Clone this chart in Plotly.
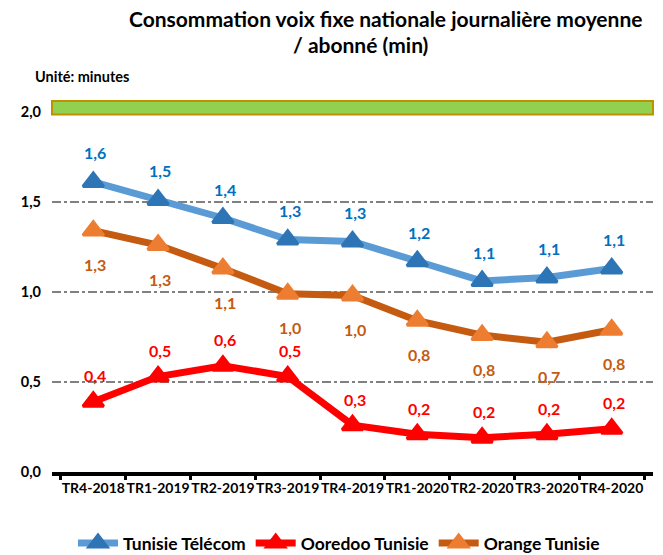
import plotly.graph_objects as go

categories = ["TR4-2018", "TR1-2019", "TR2-2019", "TR3-2019", "TR4-2019",
              "TR1-2020", "TR2-2020", "TR3-2020", "TR4-2020"]
tunisie_telecom = [1.61, 1.51, 1.41, 1.29, 1.28, 1.17, 1.06, 1.08, 1.13]
ooredoo = [0.39, 0.53, 0.59, 0.53, 0.26, 0.21, 0.19, 0.21, 0.24]
orange = [1.34, 1.26, 1.13, 0.99, 0.98, 0.84, 0.76, 0.72, 0.79]
y_ticks = [0.0, 0.5, 1.0, 1.5, 2.0]

FONT = "Lato"

series = [
    dict(name="Tunisie Télécom", y=tunisie_telecom, line="#5B9BD5", marker="#2E75B6",
         label="#0070C0", shift=29),
    dict(name="Ooredoo Tunisie", y=ooredoo, line="#FF0000", marker="#FF0000",
         label="#FF0000", shift=26),
    dict(name="Orange Tunisie", y=orange, line="#C55A11", marker="#ED7D31",
         label="#C55A11", shift=-34),
]

def fmt(v):
    return f"{v:.1f}".replace(".", ",")

W, H = 663, 555
L, R, T, B = 52, 10, 100, 83
pw, ph = W - L - R, H - T - B

def px(xp):
    return (xp - L) / pw

def py(yp):
    return (H - B - yp) / ph

fig = go.Figure()
annotations = []
for s in series:
    fig.add_trace(go.Scatter(
        x=categories, y=s["y"], name=s["name"], mode="lines+markers",
        line=dict(color=s["line"], width=7),
        marker=dict(symbol="triangle-up", size=18, color=s["marker"],
                    line=dict(color=s["marker"], width=3)),
    ))
    for c, v in zip(categories, s["y"]):
        annotations.append(dict(
            x=c, y=v, xref="x", yref="y", text=fmt(v), showarrow=False,
            yshift=s["shift"], xshift=2, xanchor="center", yanchor="middle",
            font=dict(family=FONT, size=16, color=s["label"], weight="bold"),
        ))

annotations += [
    dict(x=px(386), y=py(19), xref="paper", yref="paper", showarrow=False,
         xanchor="center", yanchor="middle",
         text="Consommation voix fixe nationale journalière moyenne",
         font=dict(family=FONT, size=21, color="black", weight="bold")),
    dict(x=px(360), y=py(45), xref="paper", yref="paper", showarrow=False,
         xanchor="center", yanchor="middle",
         text="/ abonné (min)",
         font=dict(family=FONT, size=21, color="black", weight="bold")),
    dict(x=px(33), y=py(76), xref="paper", yref="paper", showarrow=False,
         xanchor="left", yanchor="middle", text="Unité: minutes",
         font=dict(family=FONT, size=14.5, color="black", weight="bold")),
]

fig.update_layout(
    width=W, height=H,
    margin=dict(l=L, r=R, t=T, b=B, autoexpand=False),
    paper_bgcolor="white", plot_bgcolor="white",
    separators=", ",
    showlegend=True,
    legend=dict(orientation="h", x=px(339), xanchor="center", y=py(543),
                yanchor="middle", font=dict(family=FONT, size=17.5, color="black",
                                            weight="bold"),
                itemwidth=40, tracegroupgap=0),
    annotations=annotations,
    shapes=[dict(type="rect", xref="paper", yref="y", x0=0, x1=1,
                 y0=1.985, y1=2.06, fillcolor="#92D050",
                 line=dict(color="#BF9000", width=2), layer="above")],
)
fig.update_xaxes(
    type="category", showgrid=False, showline=True, linecolor="black",
    linewidth=4, ticks="outside", tickson="boundaries", ticklen=4,
    tickwidth=3, tickcolor="black", tickangle=0, automargin=False,
    tickfont=dict(family=FONT, size=14, color="black", weight="bold"),
)
fig.update_yaxes(
    range=[0, 2.065], tickvals=y_ticks, tickformat=".1f", automargin=False,
    showgrid=True, gridcolor="#808080", gridwidth=1.5, griddash="dashdot",
    zeroline=False, showline=False, ticks="", ticklabelstandoff=10,
    tickfont=dict(family=FONT, size=14.5, color="black", weight="bold"),
)
fig.write_html(
    "out.html",
    config={"displayModeBar": False},
    post_script="document.body.style.margin='0';document.body.style.padding='0';"
                "document.documentElement.style.overflow='hidden';",
)
